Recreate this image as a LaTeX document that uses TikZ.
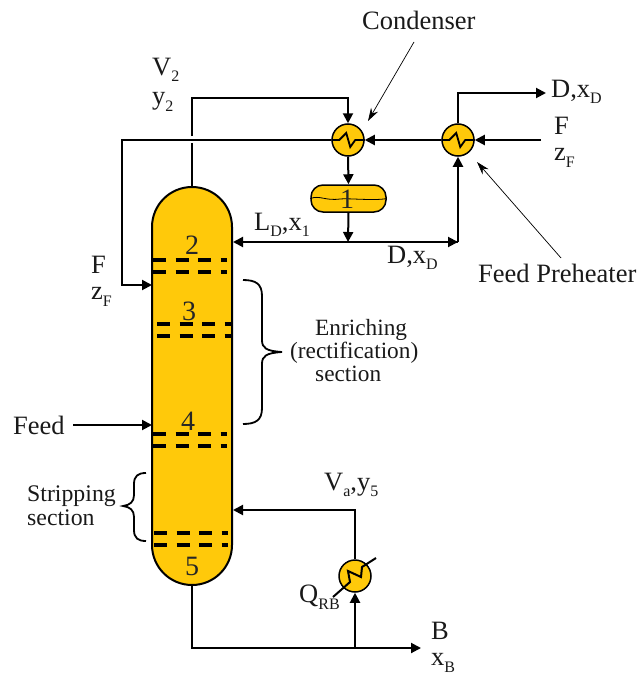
\documentclass[tikz,border=0pt]{standalone}
\usepackage{fontspec}
\setmainfont{Liberation Serif}
\usetikzlibrary{arrows.meta,decorations.pathreplacing}
\definecolor{colfill}{HTML}{FFC90A}
\tikzset{
 line/.style={line width=2pt},
 flow/.style={line width=2pt,-{Triangle[length=10pt,width=10pt]}},
 thin arrow/.style={line width=0.7pt,-{Stealth[length=13pt,width=8pt]}},
 hx/.style={circle,draw,line width=1.5pt,fill=colfill,minimum size=32pt,inner sep=0pt},
 lbl/.style={font=\fontsize{26.5}{28}\selectfont,inner sep=0pt,text=black!90},
 num/.style={font=\fontsize{28}{28}\selectfont,inner sep=0pt,text=black!85},
 tray/.style={line width=3.2pt,dash pattern=on 13pt off 9.5pt},
 sm/.style={font=\fontsize{23.3}{24}\selectfont,inner sep=0pt,anchor=base west,text=black!90}
}
\newcommand{\sub}[1]{\raisebox{-0.25em}{\fontsize{16}{16}\selectfont #1}}
\begin{document}
\begin{tikzpicture}[x=1pt,y=-1pt]
\useasboundingbox (0,0) rectangle (639,677);
% column
\fill[colfill] (152,227) arc[start angle=180,end angle=360,radius=40] -- (232,545) arc[start angle=0,end angle=180,radius=40] -- cycle;
\draw[line width=2pt] (152,227) arc[start angle=180,end angle=360,radius=40] -- (232,545) arc[start angle=0,end angle=180,radius=40] -- cycle;
\coordinate (coltop) at (192,187);
\coordinate (colbot) at (192,585);
\coordinate (Lin) at (233,242);
\coordinate (Fin) at (152,285);
\coordinate (Feedin) at (152,425);
\coordinate (Vin) at (233,510);
\foreach \y/\x in {260/153,272/153,324/157,336/157,434/153,446/153,533/154,545/154}
  \draw[tray] (\x,\y) -- ++(74,0);
% equipment
\node[hx] (cond) at (348,140) {};
\node[hx] (pre) at (458,140) {};
\node[hx] (reb) at (355,576) {};
\node[draw,line width=1.5pt,fill=colfill,rounded corners=12pt,minimum width=75pt,minimum height=27pt,inner sep=0pt] (drum) at (348.5,198.5) {};
\draw[line width=0.8pt] (drum.west) ..controls (320,195) and (325,201) .. (340,199) .. controls (348,198) and (375,201) .. (drum.east);
\foreach \n in {cond,pre}{
  \draw[line width=1.8pt] (\n.west) -- ++(8,0) -- ++(7,-7) -- ++(4,14) -- ++(5,-7) -- (\n.east);
}
\draw[line width=2pt] (333,597) -- (350,582) -- (348,571) -- (361,577) -- (362,567) -- (376,558);
% connectors
\coordinate (v1) at (192,98);
\coordinate (v2) at (348,98);
\coordinate (g1) at (192,143);
\coordinate (g2) at (192,136);
\draw[line] (coltop) -- (g1);
\draw[flow] (g2) -- (v1) -- (v2) -- (cond.north);
\draw[flow] (cond.south) -- (drum.north);
\coordinate (j1) at (348,242);
\draw[flow] (drum.south) -- (j1);
\coordinate (j2) at (458,242);
\draw[flow] (j2) -- (Lin);
\draw[flow] (j1) -- (j2);
\draw[flow] (j2) -- (pre.south);
\coordinate (dt) at (458,93);
\coordinate (dend) at (546,93);
\draw[flow] (pre.north) -- (dt) -- (dend);
\coordinate (fs) at (541,140);
\draw[flow] (fs) -- (pre.east);
\draw[flow] (pre.west) -- (cond.east);
\coordinate (f1) at (122,140);
\coordinate (f2) at (122,285);
\draw[flow] (cond.west) -- (f1) -- (f2) -- (Fin);
\coordinate (fd) at (73,425);
\draw[flow] (fd) -- (Feedin);
\coordinate (b1) at (192,648);
\coordinate (b2) at (421,648);
\coordinate (j3) at (355,648);
\draw[flow] (colbot) -- (b1) -- (b2);
\draw[flow] (j3) -- (reb.south);
\coordinate (r1) at (355,510);
\draw[flow] (reb.north) -- (r1) -- (Vin);
% callouts
\node[lbl,anchor=west] (lc) at (362,20) {Condenser};
\node[lbl,anchor=west] (lp) at (478,273) {Feed Preheater};
\coordinate (ca) at (414,42);
\coordinate (cb) at (368,121);
\coordinate (pa) at (561,258);
\coordinate (pb) at (477,162);
\draw[thin arrow] (ca) -- (cb);
\draw[thin arrow] (pa) -- (pb);
% braces
\draw[line width=1.8pt] (243,280) .. controls (256,280) and (262,284) .. (262,296) -- (262,340) .. controls (262,348) and (266,351) .. (282,352) .. controls (266,353) and (262,356) .. (262,364) -- (262,408) .. controls (262,420) and (256,424) .. (243,424);
\draw[line width=1.8pt] (146,473) .. controls (138,473) and (134,476) .. (134,484) -- (134,495) .. controls (134,502) and (130,505) .. (123,506) .. controls (130,507) and (134,510) .. (134,517) -- (134,530) .. controls (134,538) and (138,541) .. (146,541);
% labels
\node[num] (n1) at (347,199) {1};
\node[num] (n2) at (192,245) {2};
\node[num] (n3) at (189,311) {3};
\node[num] (n4) at (188,421) {4};
\node[num] (n5) at (192,566) {5};
\node[lbl,anchor=west] (tv) at (152,70) {V\sub{2}};
\node[lbl,anchor=west] (ty) at (152,102) {y\sub{2}};
\node[lbl,anchor=west] (tdx) at (551,92) {D,x\sub{D}};
\node[lbl,anchor=west] (tf) at (554,126) {F};
\node[lbl,anchor=west] (tz) at (554,158) {z\sub{F}};
\node[lbl,anchor=west] (tl) at (254,225) {L\sub{D},x\sub{1}};
\node[lbl,anchor=west] (tdx2) at (387,258) {D,x\sub{D}};
\node[lbl,anchor=west] (tf2) at (91,265) {F};
\node[lbl,anchor=west] (tz2) at (91,297) {z\sub{F}};
\node[lbl,anchor=west] (tfeed) at (13,425) {Feed};
\node[sm] (ten1) at (315,335) {Enriching};
\node[sm] (ten2) at (290,358) {(rectification)};
\node[sm] (ten3) at (315,381) {section};
\node[sm,font=\fontsize{23.8}{24}\selectfont] (tst1) at (27,501) {Stripping};
\node[sm,font=\fontsize{23.8}{24}\selectfont] (tst2) at (27,525) {section};
\node[lbl,anchor=west] (tva) at (324,485) {V\sub{a},y\sub{5}};
\node[lbl,anchor=west] (tq) at (299,597) {Q\sub{RB}};
\node[lbl,anchor=west] (tb) at (431,631) {B};
\node[lbl,anchor=west] (tx) at (431,663) {x\sub{B}};
\end{tikzpicture}
\end{document}
